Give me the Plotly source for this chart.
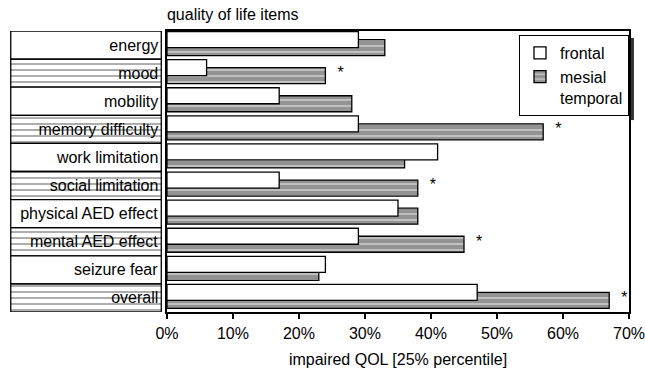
import plotly.graph_objects as go

categories = ["energy", "mood", "mobility", "memory difficulty", "work limitation",
              "social limitation", "physical AED effect", "mental AED effect",
              "seizure fear", "overall"]
frontal = [29, 6, 17, 29, 41, 17, 35, 29, 24, 47]
mesial_temporal = [33, 24, 28, 57, 36, 38, 38, 45, 23, 67]
significant = [False, True, False, True, False, True, False, True, False, True]
x_ticks = [0, 10, 20, 30, 40, 50, 60, 70]
x_tick_labels = ["0%", "10%", "20%", "30%", "40%", "50%", "60%", "70%"]

FONT = "Liberation Sans, Arial, Helvetica, sans-serif"
GRAY = "#939393"
LIGHT = "#d0d0d0"
pos = list(range(len(categories)))
hatch = dict(shape="-", fgcolor=LIGHT, bgcolor=GRAY, size=6, solidity=0.25, fillmode="replace")

fig = go.Figure()

# category label boxes
fig.add_trace(go.Bar(
    y=pos, x=[1] * len(categories), orientation="h", width=1,
    xaxis="x2", yaxis="y",
    marker=dict(color=["white" if i % 2 == 0 else GRAY for i in pos],
                pattern=dict(shape=["" if i % 2 == 0 else "-" for i in pos],
                             fgcolor=LIGHT, size=6, solidity=0.25, fillmode="replace"),
                line=dict(color="black", width=1.3)),
    text=categories, textposition="inside", insidetextanchor="end", textangle=0,
    textfont=dict(family=FONT, size=16, color="black"),
    showlegend=False, hoverinfo="skip",
))

fig.add_trace(go.Bar(
    name="mesial<br>temporal", y=pos, x=mesial_temporal, orientation="h",
    width=0.57, offset=-0.196,
    marker=dict(color=GRAY, pattern=hatch, line=dict(color="black", width=1.3)),
))
fig.add_trace(go.Bar(
    name="frontal", y=pos, x=frontal, orientation="h",
    width=0.57, offset=-0.481,
    marker=dict(color="white", line=dict(color="black", width=1.3)),
))

sx = [m + 2.3 for m, s in zip(mesial_temporal, significant) if s]
sy = [p + 0.03 for p, s in zip(pos, significant) if s]
fig.add_trace(go.Scatter(
    x=sx, y=sy, mode="text", text=["*"] * len(sx),
    textfont=dict(family=FONT, size=16, color="black"),
    showlegend=False, hoverinfo="skip",
))

fig.update_layout(
    width=645, height=370,
    margin=dict(l=10, r=16, t=31, b=58, autoexpand=False),
    paper_bgcolor="white", plot_bgcolor="white",
    barmode="overlay",
    font=dict(family=FONT, size=16, color="black"),
    title=dict(text="quality of life items", x=0.2536, xref="paper", xanchor="left",
               y=1 - 14 / 370, yref="container", yanchor="middle",
               font=dict(family=FONT, size=16, color="black")),
    xaxis=dict(domain=[0.2536, 1], range=[0, 70], tickvals=x_ticks, ticktext=x_tick_labels,
               ticks="outside", ticklen=5, tickcolor="black", tickwidth=1.5,
               showline=True, linecolor="black", linewidth=1.5, mirror=True,
               showgrid=False, zeroline=False, ticklabelstandoff=1,
               ticklabeloverflow="allow",
               title=dict(text="impaired QOL [25% percentile]", standoff=13,
                          font=dict(family=FONT, size=16)),
               anchor="y", fixedrange=True),
    xaxis2=dict(domain=[0, 0.2456], range=[-0.005, 1.005], visible=False,
                anchor="y", fixedrange=True),
    yaxis=dict(range=[9.5, -0.5], showticklabels=False, ticks="",
               showline=True, linecolor="black", linewidth=1.5, mirror=True,
               showgrid=False, zeroline=False, anchor="x", fixedrange=True),
    legend=dict(x=1.0, xanchor="right", y=0.986, yanchor="top",
                bgcolor="white", bordercolor="black", borderwidth=1,
                traceorder="reversed", itemwidth=30, valign="top",
                font=dict(family=FONT, size=16, color="black")),
    shapes=[dict(type="rect", xref="paper", yref="paper",
                 x0=1.0, x1=1.008, y0=0.683, y1=0.975,
                 fillcolor="#333333", line=dict(width=0), layer="below")],
)

fig.write_html("out.html", config={"displayModeBar": False},
               post_script="document.body.style.margin='0';document.body.style.overflow='hidden';")
